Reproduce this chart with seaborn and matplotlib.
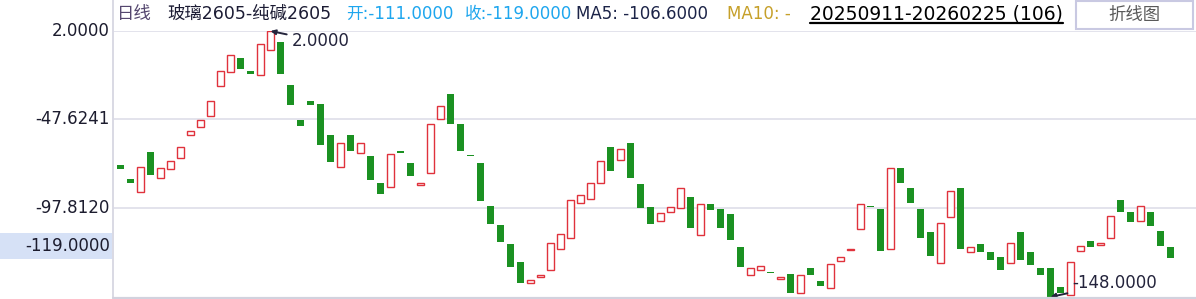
import numpy as np
import pandas as pd
import matplotlib
matplotlib.use("Agg")
import matplotlib.pyplot as plt
from matplotlib.patches import Rectangle
from matplotlib.lines import Line2D
import seaborn as sns

# ---------------- data ----------------
opens = [-73.4, -81.3, -89.0, -66.1, -80.9, -75.8, -69.6, -56.7, -52.2, -46.0,
         -29.1, -21.1, -13.2, -20.5, -22.9, -8.9, -4.2, -28.4, -48.1, -37.4,
         -39.1, -56.5, -74.7, -56.5, -66.8, -68.3, -83.5, -86.0, -65.5, -72.3,
         -84.8, -78.1, -47.4, -33.5, -50.3, -68.3, -72.3, -96.5, -107.2, -118.4,
         -128.0, -140.0, -136.6, -132.7, -120.9, -114.9, -95.0, -92.7, -83.7, -63.3,
         -70.8, -61.0, -84.1, -97.0, -105.1, -100.0, -97.8, -91.4, -113.0, -95.4,
         -98.2, -101.0, -120.1, -135.5, -132.7, -134.2, -138.0, -135.3, -145.6, -131.9,
         -139.2, -142.8, -127.6, -121.6, -109.6, -97.0, -98.2, -121.0, -75.1, -86.3,
         -98.2, -111.1, -128.7, -102.8, -86.3, -122.5, -118.4, -122.9, -125.2, -128.7,
         -111.1, -122.4, -131.9, -131.9, -142.1, -147.1, -122.0, -116.2, -118.6, -114.9,
         -93.1, -100.2, -105.1, -100.2, -111.0, -120.1]
closes = [-76.0, -83.5, -74.5, -79.0, -75.1, -71.2, -63.3, -54.3, -48.1, -37.4,
          -20.5, -11.5, -19.2, -22.0, -5.3, 2.0, -22.0, -40.0, -51.3, -40.0,
          -62.2, -72.1, -61.2, -65.9, -61.2, -82.2, -90.1, -67.4, -67.0, -80.0,
          -83.5, -50.5, -40.2, -50.2, -65.4, -68.7, -94.1, -107.0, -117.1, -131.2,
          -140.2, -138.3, -135.5, -117.3, -112.4, -93.3, -90.3, -83.5, -71.2, -77.2,
          -64.6, -81.1, -98.0, -107.0, -100.6, -97.2, -86.5, -109.2, -95.4, -99.1,
          -109.2, -116.0, -131.2, -131.6, -130.4, -134.6, -137.0, -145.8, -135.5, -135.7,
          -141.9, -129.3, -125.3, -121.2, -95.4, -97.4, -122.2, -75.1, -83.5, -95.2,
          -114.9, -125.0, -106.2, -88.2, -121.0, -120.1, -122.8, -127.3, -132.9, -117.5,
          -127.3, -130.1, -135.7, -148.0, -145.8, -128.2, -119.2, -120.1, -117.5, -102.1,
          -100.2, -105.9, -96.5, -108.1, -119.0, -126.1]
ytick_values = [2.0, -47.6241, -97.8120]
ytick_labels = ["2.0000", "-47.6241", "-97.8120"]
current_label = "-119.0000"
current_value = -119.0
max_idx, max_val, max_label = 15, 2.0, "2.0000"
min_idx, min_val, min_label = 93, -148.0, "-148.0000"

df = pd.DataFrame({"idx": np.arange(len(opens)), "open": opens, "close": closes})
df["low_body"] = df[["open", "close"]].min(axis=1)
df["height"] = (df["close"] - df["open"]).abs().clip(lower=0.7)
df["up"] = df["close"] > df["open"]

# ---------------- style ----------------
sns.set_theme(style="white")
plt.rcParams["font.family"] = ["DejaVu Sans", "Noto Sans CJK SC"]

W, H = 1196, 299
fig = plt.figure(figsize=(W / 100, H / 100), dpi=100)
fig.patch.set_facecolor("white")

left_px, top_px, bottom_px = 113, 31, 297.5
ax = fig.add_axes([left_px / W, (H - bottom_px) / H, (W - left_px) / W, (bottom_px - top_px) / H])
ax.set_facecolor("white")
for s in ax.spines.values():
    s.set_visible(False)
ax.set_xlim(-0.75, 107.55)
ax.set_ylim(-148.3, 2.0)
ax.set_xticks([])
ax.set_yticks([])

GRID = "#e3e3ec"
for v in ytick_values:
    ax.axhline(v, color=GRID, lw=1.4, zorder=0)

GREEN = "#1b9122"
RED = "#e0323c"
dn = df[~df["up"]]
up = df[df["up"]]
ax.bar(dn["idx"], dn["height"], bottom=dn["low_body"], width=0.7,
       color=GREEN, edgecolor=GREEN, linewidth=0, zorder=3)
ax.bar(up["idx"], up["height"], bottom=up["low_body"], width=0.62,
       facecolor="white", edgecolor=RED, linewidth=1.0, zorder=3)

# annotations for max / min
ANN = "#24243c"
ax.annotate(max_label, xy=(max_idx, max_val), xytext=(15, -7.5), textcoords="offset points",
            ha="left", va="center", fontsize=12, color=ANN, annotation_clip=False,
            arrowprops=dict(arrowstyle="-|>", color=ANN, lw=1.4, shrinkA=1, shrinkB=0,
                            mutation_scale=7))
ax.annotate(min_label, xy=(min_idx, min_val), xytext=(15.5, 10), textcoords="offset points",
            ha="left", va="center", fontsize=12, color=ANN, annotation_clip=False,
            arrowprops=dict(arrowstyle="-|>", color=ANN, lw=1.4, shrinkA=1, shrinkB=0,
                            mutation_scale=7))

# borders
fig.add_artist(Line2D([left_px / W, left_px / W], [(H - bottom_px) / H, 1.0],
                      transform=fig.transFigure, color="#d9d9e4", lw=1.4))
fig.add_artist(Line2D([left_px / W, 1.0], [(H - bottom_px) / H, (H - bottom_px) / H],
                      transform=fig.transFigure, color="#d2d2de", lw=1.6))

def fy(py):
    return 1 - py / H

def fx(px):
    return px / W

ypix = lambda v: top_px + (2.0 - v) * (bottom_px - top_px) / (2.0 + 148.3)
for v, lab in zip(ytick_values, ytick_labels):
    fig.text(fx(110), fy(ypix(v)), lab, ha="right", va="center", fontsize=12, color="#1c1c2e")
cy = ypix(current_value)
fig.add_artist(Rectangle((0, fy(cy + 13)), fx(112), 26 / H, transform=fig.transFigure,
                         facecolor="#d6e1f6", edgecolor="none", zorder=1))
fig.text(fx(110), fy(cy), current_label, ha="right", va="center", fontsize=12,
         color="#1c1c2e", zorder=2)

# header
hy = fy(14)
fig.text(fx(117), hy, "日线", ha="left", va="center", fontsize=12.5, color="#54466e")
fig.text(fx(167), hy, "玻璃2605-纯碱2605", ha="left", va="center", fontsize=12.5, color="#1c1c34")
fig.text(fx(346), hy, "开:-111.0000", ha="left", va="center", fontsize=12, color="#1ea6ee")
fig.text(fx(465), hy, "收:-119.0000", ha="left", va="center", fontsize=12, color="#1ea6ee")
fig.text(fx(576), hy, "MA5: -106.6000", ha="left", va="center", fontsize=12, color="#1c2448")
fig.text(fx(727), hy, "MA10: -", ha="left", va="center", fontsize=12, color="#c6a02a")
fig.text(fx(810), hy, "20250911-20260225 (106)", ha="left", va="center", fontsize=13.5, color="#000000")
fig.add_artist(Line2D([fx(810), fx(1063)], [fy(23), fy(23)], transform=fig.transFigure,
                      color="black", lw=1.6))
fig.add_artist(Rectangle((fx(1076), fy(29)), (1193 - 1076) / W, 28 / H, transform=fig.transFigure,
                         facecolor="white", edgecolor="#c9c9e2", lw=1.5))
fig.text(fx(1134.5), fy(15), "折线图", ha="center", va="center", fontsize=12.5, color="#5a5a5a")

fig.savefig("out.png", dpi=100, facecolor="white")
